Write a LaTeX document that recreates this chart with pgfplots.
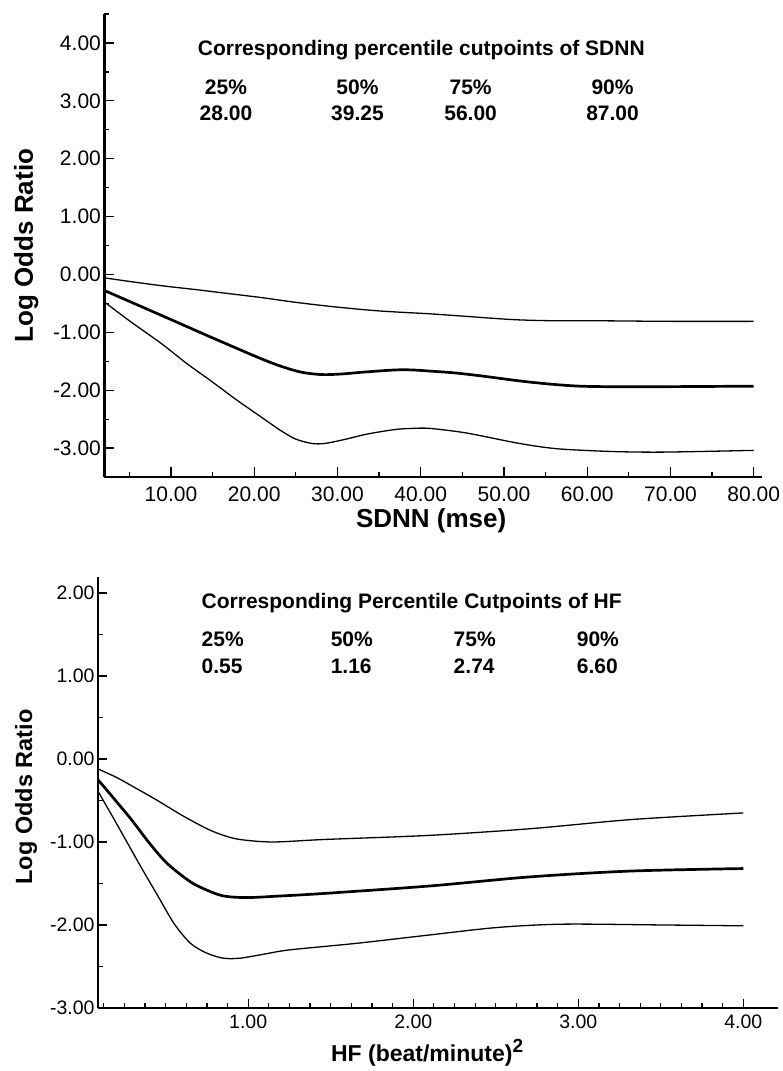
\documentclass[border=0pt]{standalone}
\usepackage{fontspec}
\setmainfont{Liberation Sans}
\usepackage{pgfplots}
\pgfplotsset{compat=1.18}

\pgfplotsset{
 oddsaxis/.style={
  scale only axis,anchor=south west,
  axis lines=left,axis line style={-,line width=2.6pt},
  tick align=inside,
  every tick/.style={black,line width=1.2pt},
  thinline/.style={black,line width=1.3pt,smooth},
  thickline/.style={black,line width=2.7pt,smooth},
 },
}

\begin{document}
\begin{tikzpicture}[x=1pt,y=1pt]
\useasboundingbox (0,0) rectangle (782,1071);

% upper panel: SDNN
\begin{axis}[oddsaxis,
 at={(104.4pt,594pt)},width=657.6pt,height=462.9pt,
 xmin=2,xmax=81,ymin=-3.5,ymax=4.5,
 xtick={10,20,...,80},
 xticklabels={10.00,20.00,30.00,40.00,50.00,60.00,70.00,80.00},
 minor xtick={5,15,...,75},
 ytick={-3,-2,...,4},
 yticklabels={-3.00,-2.00,-1.00,0.00,1.00,2.00,3.00,4.00},
 minor ytick={-2.5,-1.5,...,4.5},
 major tick length=10pt,minor tick length=5pt,
 tick label style={font=\fontsize{21}{21}\selectfont},
 xticklabel style={yshift=-6pt},
 xlabel={SDNN (mse)},
 ylabel={Log Odds Ratio},
 xlabel style={font=\bfseries\fontsize{26}{26}\selectfont,at={(axis description cs:0.497,-0.11)},anchor=base},
 ylabel style={font=\bfseries\fontsize{26}{26}\selectfont,at={(axis description cs:-0.1086,0.5)},anchor=base},
]
\addplot[thinline] coordinates {
 (2.05,-0.06) (5,-0.12) (8.9,-0.195) (12.9,-0.26) (16.9,-0.33) (20.9,-0.40)
 (24.9,-0.48) (29.7,-0.56) (35,-0.63) (41.1,-0.68) (45.1,-0.72) (51.1,-0.78)
 (56,-0.80) (61.1,-0.80) (70,-0.81) (80,-0.81)};
\addplot[thickline] coordinates {
 (2.05,-0.28) (8.9,-0.71) (14.9,-1.09) (20.9,-1.46) (23.5,-1.60) (25.7,-1.69)
 (28.1,-1.73) (30.5,-1.72) (32.9,-1.69) (36.9,-1.65) (39,-1.65) (41.1,-1.67)
 (44,-1.70) (47.1,-1.75) (53.1,-1.86) (59.1,-1.93) (67.1,-1.94) (80,-1.93)};
\addplot[thinline] coordinates {
 (2.05,-0.48) (5,-0.80) (8.9,-1.20) (12,-1.55) (14.9,-1.85) (17.9,-2.17)
 (20.9,-2.47) (23,-2.68) (24.9,-2.84) (26.9,-2.92) (28.5,-2.92) (30.9,-2.85)
 (33.5,-2.76) (36.9,-2.68) (39,-2.66) (41.1,-2.66) (45.1,-2.73) (48,-2.81)
 (51.1,-2.90) (54,-2.97) (57.1,-3.02) (63.1,-3.06) (69.1,-3.07) (80,-3.04)};
\begin{scope}[every node/.style={font=\bfseries\fontsize{21}{21}\selectfont,anchor=base}]
\node at (axis cs:40.07,3.783) {Corresponding percentile cutpoints of SDNN};
\node at (axis cs:16.6,3.118) {25\%};
\node at (axis cs:32.4,3.118) {50\%};
\node at (axis cs:46.0,3.118) {75\%};
\node at (axis cs:63.05,3.118) {90\%};
\node at (axis cs:16.6,2.669) {28.00};
\node at (axis cs:32.4,2.669) {39.25};
\node at (axis cs:46.0,2.669) {56.00};
\node at (axis cs:63.05,2.669) {87.00};
\end{scope}
\end{axis}

% lower panel: HF
\begin{axis}[oddsaxis,
 at={(98pt,63pt)},width=680pt,height=430.8pt,
 xmin=0.09,xmax=4.21,ymin=-3,ymax=2.19,
 xtick={1,2,3,4},
 xticklabels={1.00,2.00,3.00,4.00},
 minor xtick={0.125,0.25,...,3.875},
 ytick={-3,-2,...,2},
 yticklabels={-3.00,-2.00,-1.00,0.00,1.00,2.00},
 minor ytick={-2.5,-1.5,...,1.5},
 major tick length=9pt,minor tick length=4.5pt,
 tick label style={font=\fontsize{19.5}{19.5}\selectfont},
 xticklabel style={yshift=-3.5pt},
 xlabel={HF (beat/minute)\raisebox{0.42em}{\fontsize{19}{19}\selectfont 2}},
 ylabel={Log Odds Ratio},
 xlabel style={font=\bfseries\fontsize{23}{23}\selectfont,at={(axis description cs:0.484,-0.125)},anchor=base},
 ylabel style={font=\bfseries\fontsize{23.5}{23.5}\selectfont,at={(axis description cs:-0.097,0.49)},anchor=base},
]
\addplot[thinline] coordinates {
 (0.09,-0.12) (0.2,-0.22) (0.3,-0.33) (0.45,-0.50) (0.6,-0.68) (0.75,-0.84)
 (0.85,-0.92) (0.95,-0.97) (1.15,-1.00) (1.46,-0.97) (2.1,-0.92) (2.71,-0.84)
 (3.32,-0.73) (4.0,-0.65)};
\addplot[thickline] coordinates {
 (0.09,-0.25) (0.28,-0.70) (0.4,-1.01) (0.51,-1.26) (0.65,-1.48) (0.75,-1.58)
 (0.85,-1.65) (0.99,-1.67) (1.2,-1.65) (1.46,-1.62) (2.1,-1.53) (2.71,-1.42)
 (3.32,-1.35) (4.0,-1.32)};
\addplot[thinline] coordinates {
 (0.09,-0.39) (0.2,-0.77) (0.35,-1.30) (0.45,-1.64) (0.55,-1.98) (0.65,-2.22)
 (0.75,-2.34) (0.85,-2.40) (0.95,-2.40) (1.1,-2.35) (1.25,-2.30) (1.66,-2.22)
 (2.1,-2.12) (2.51,-2.03) (2.91,-1.99) (3.52,-2.00) (4.0,-2.01)};
\begin{scope}[every node/.style={font=\bfseries\fontsize{21}{21}\selectfont,anchor=base west}]
\node at (axis cs:0.697,1.807) {Corresponding Percentile Cutpoints of HF};
\node at (axis cs:0.697,1.361) {25\%};
\node at (axis cs:1.479,1.361) {50\%};
\node at (axis cs:2.224,1.361) {75\%};
\node at (axis cs:2.970,1.361) {90\%};
\node at (axis cs:0.697,1.024) {0.55};
\node at (axis cs:1.479,1.024) {1.16};
\node at (axis cs:2.224,1.024) {2.74};
\node at (axis cs:2.970,1.024) {6.60};
\end{scope}
\end{axis}
\end{tikzpicture}
\end{document}
